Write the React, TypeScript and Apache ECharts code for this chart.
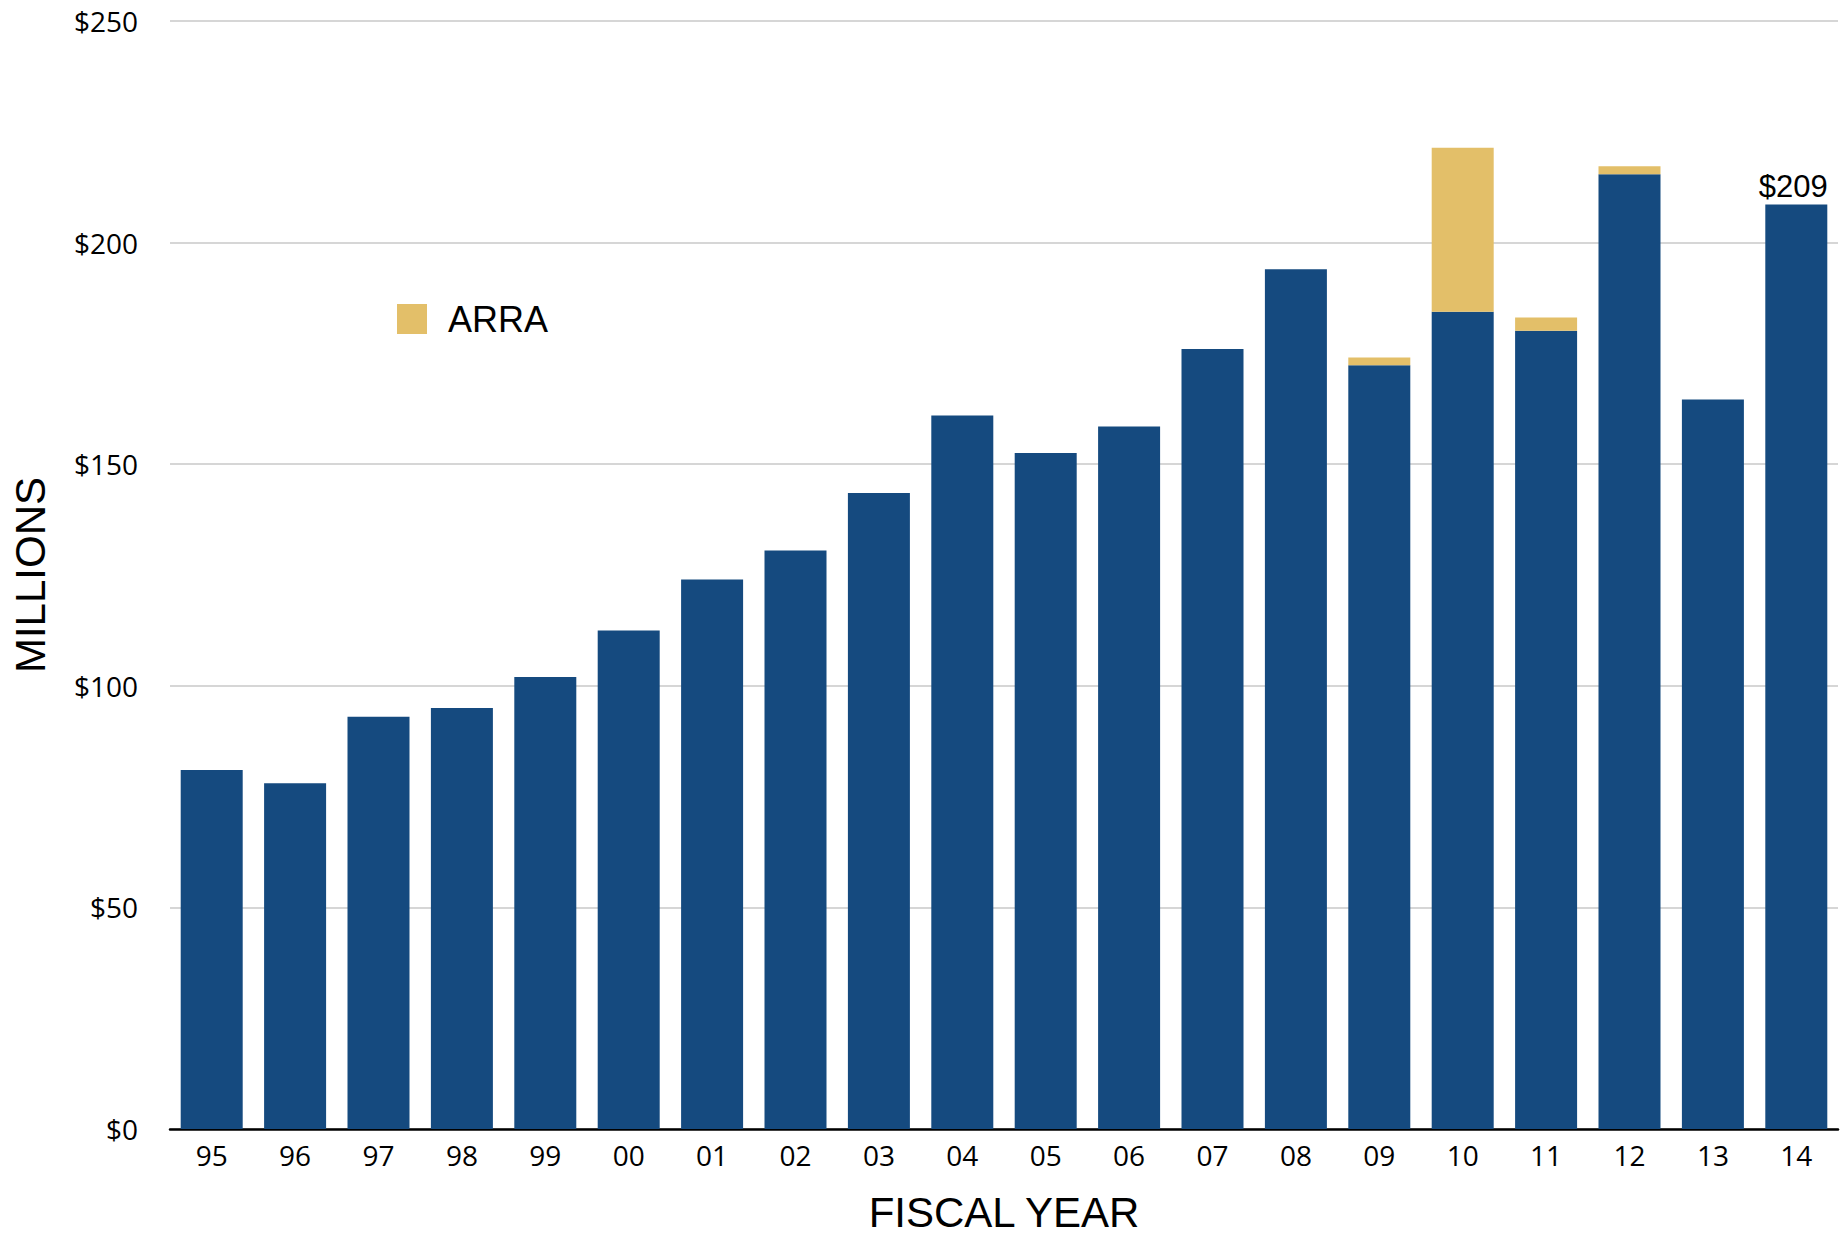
import React, { useEffect, useRef } from "react";
import * as echarts from "echarts";

const years = ["95","96","97","98","99","00","01","02","03","04","05","06","07","08","09","10","11","12","13","14"];
const baseValues = [81, 78, 93, 95, 102, 112.5, 124, 130.5, 143.5, 161, 152.5, 158.5, 176, 194, 172.3, 184.4, 180.1, 215.4, 164.6, 208.6];
const arraValues: (number | null)[] = [null, null, null, null, null, null, null, null, null, null, null, null, null, null, 1.8, 37, 3, 1.8, null, null];
const yTicks = [0, 50, 100, 150, 200, 250];

const BLUE = "#154a7f";
const GOLD = "#e3bf69";

export default function App() {
  const ref = useRef<HTMLDivElement>(null);
  useEffect(() => {
    if (!ref.current) return;
    const chart = echarts.init(ref.current, null, { renderer: "svg" });
    const lastIdx = baseValues.length - 1;
    chart.setOption({
      animation: false,
      backgroundColor: "#ffffff",
      grid: { left: 170, right: 10, top: 21, bottom: 104, containLabel: false },
      legend: {
        data: ["ARRA"],
        left: 392,
        top: 296,
        itemWidth: 30,
        itemHeight: 30,
        icon: "rect",
        textStyle: { fontFamily: "Liberation Sans", fontSize: 36, color: "#000", padding: [0, 0, 0, 16] },
      },
      xAxis: {
        type: "category",
        data: years,
        name: "FISCAL YEAR",
        nameLocation: "middle",
        nameGap: 62,
        nameTextStyle: { fontFamily: "Liberation Sans", fontSize: 42, color: "#000" },
        axisLine: { show: true, lineStyle: { color: "#000", width: 2.5 } },
        axisTick: { show: false },
        axisLabel: { fontFamily: "Open Sans", fontSize: 28, color: "#000", margin: 12 },
      },
      yAxis: {
        type: "value",
        min: yTicks[0],
        max: yTicks[yTicks.length - 1],
        interval: 50,
        name: "MILLIONS",
        nameLocation: "middle",
        nameGap: 119,
        nameRotate: 90,
        nameTextStyle: { fontFamily: "Liberation Sans", fontSize: 42, color: "#000" },
        axisLine: { show: false },
        axisTick: { show: false },
        splitLine: { lineStyle: { color: "#c8c8c8", width: 1.5 } },
        axisLabel: { fontFamily: "Open Sans", fontSize: 28, color: "#000", margin: 32, formatter: (v: number) => "$" + v },
      },
      series: [
        {
          name: "Base",
          type: "bar",
          stack: "total",
          barWidth: 62,
          itemStyle: { color: BLUE },
          data: baseValues.map((v, i) =>
            i === lastIdx
              ? {
                  value: v,
                  label: {
                    show: true,
                    position: "top",
                    distance: 2,
                    offset: [-3, 0],
                    fontFamily: "Liberation Sans",
                    fontSize: 31,
                    color: "#000",
                    formatter: (p: any) => "$" + Math.round(p.value),
                  },
                }
              : v
          ),
        },
        {
          name: "ARRA",
          type: "bar",
          stack: "total",
          barWidth: 62,
          itemStyle: { color: GOLD },
          data: arraValues,
        },
      ],
    });
    return () => chart.dispose();
  }, []);
  return (
    <div
      ref={ref}
      style={{ position: "fixed", left: 0, top: 0, width: 1848, height: 1238 }}
    />
  );
}
